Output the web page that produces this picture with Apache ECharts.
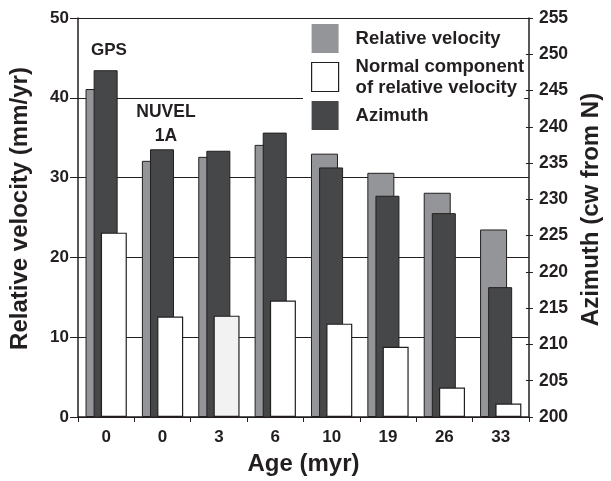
<!DOCTYPE html>
<html>
<head>
<meta charset="utf-8">
<script src="https://cdn.jsdelivr.net/npm/echarts@6/dist/echarts.min.js"></script>
<style>html,body{margin:0;padding:0;background:#fff}#c{width:611px;height:481px}</style>
</head>
<body>
<div id="c"></div>
<script>
var categories = ['0', '0', '3', '6', '10', '19', '26', '33'];
var relativeVelocity = [41.1, 32.1, 32.6, 34.1, 33.0, 30.6, 28.1, 23.5];
var normalComponent = [23.1, 12.6, 12.7, 14.6, 11.7, 8.8, 3.7, 1.7];
var azimuth = [247.8, 236.9, 236.7, 239.2, 234.4, 230.5, 228.1, 217.9];
var leftTicks = {min: 0, max: 50, interval: 10};
var rightTicks = {min: 200, max: 255, interval: 5};

var FONT = '"Liberation Sans", Arial, Helvetica, sans-serif';
var INK = '#231f20';
var chart = echarts.init(document.getElementById('c'), null, {renderer: 'canvas'});

var normalData = normalComponent.map(function (v, i) {
  return i === 2 ? {value: v, itemStyle: {color: '#f2f2f2'}} : v;
});

chart.setOption({
  animation: false,
  backgroundColor: '#fff',
  textStyle: {fontFamily: FONT},
  grid: {left: 78, right: 74, top: 18, bottom: 60, containLabel: false},
  legend: {
    orient: 'vertical',
    left: 303, top: 20,
    padding: [4, 0, 8, 8],
    backgroundColor: '#fff',
    itemWidth: 27, itemHeight: 29, itemGap: 3,
    icon: 'rect',
    selectedMode: false,
    data: [
      {name: 'Relative velocity', itemStyle: {borderWidth: 0}},
      {name: 'Normal component\nof relative velocity', itemStyle: {borderWidth: 1.2, borderColor: INK}},
      {name: 'Azimuth', itemStyle: {borderWidth: 0}}
    ],
    textStyle: {fontFamily: FONT, fontWeight: 'bold', fontSize: 18.5, color: INK, lineHeight: 21, padding: [0, 0, 0, 12]}
  },
  xAxis: {
    type: 'category',
    data: categories,
    name: 'Age (myr)',
    nameLocation: 'middle',
    nameGap: 35,
    nameTextStyle: {fontFamily: FONT, fontWeight: 'bold', fontSize: 24, color: INK},
    axisLine: {lineStyle: {color: INK, width: 1.5}},
    axisTick: {show: true, alignWithLabel: false, length: 5, lineStyle: {color: INK, width: 1}},
    axisLabel: {fontFamily: FONT, fontWeight: 'bold', fontSize: 17, color: INK, margin: 12},
    splitLine: {show: false}
  },
  yAxis: [{
    type: 'value',
    min: leftTicks.min, max: leftTicks.max, interval: leftTicks.interval,
    name: 'Relative velocity (mm/yr)',
    nameLocation: 'middle',
    nameGap: 46,
    nameTextStyle: {fontFamily: FONT, fontWeight: 'bold', fontSize: 24, color: INK, padding: [0, 0, 0, 18]},
    axisLine: {show: true, lineStyle: {color: INK, width: 1.5}},
    axisTick: {show: true, length: 8, lineStyle: {color: INK, width: 1}},
    axisLabel: {fontFamily: FONT, fontWeight: 'bold', fontSize: 17, color: INK, margin: 9},
    splitLine: {show: true, lineStyle: {color: INK, width: 1.2}}
  }, {
    type: 'value',
    min: rightTicks.min, max: rightTicks.max, interval: rightTicks.interval,
    name: 'Azimuth (cw from N)',
    nameLocation: 'middle',
    nameGap: 47,
    nameRotate: 90,
    nameTextStyle: {fontFamily: FONT, fontWeight: 'bold', fontSize: 24, color: INK, padding: [0, 0, 0, 16]},
    position: 'right',
    axisLine: {show: true, lineStyle: {color: INK, width: 1.5}},
    axisTick: {show: true, length: 4, lineStyle: {color: INK, width: 1}},
    axisLabel: {fontFamily: FONT, fontWeight: 'bold', fontSize: 17.5, color: INK, margin: 10},
    splitLine: {show: false}
  }, {
    type: 'value',
    min: rightTicks.min, max: rightTicks.max, interval: rightTicks.interval,
    position: 'right',
    axisLine: {show: false},
    axisTick: {show: true, inside: true, length: 3, lineStyle: {color: INK, width: 1}},
    axisLabel: {show: false},
    splitLine: {show: false}
  }],
  series: [{
    name: 'Relative velocity',
    type: 'bar',
    yAxisIndex: 0,
    data: relativeVelocity,
    barWidth: 27,
    barGap: '-70%',
    itemStyle: {color: '#939598', borderColor: INK, borderWidth: 1}
  }, {
    name: 'Azimuth',
    type: 'bar',
    yAxisIndex: 1,
    data: azimuth,
    barWidth: 24,
    barGap: '-70%',
    itemStyle: {color: '#464749', borderColor: INK, borderWidth: 1}
  }, {
    name: 'Normal component\nof relative velocity',
    type: 'bar',
    yAxisIndex: 0,
    data: normalData,
    barWidth: 26,
    barGap: '-70%',
    itemStyle: {color: '#ffffff', borderColor: INK, borderWidth: 1.2}
  }],
  graphic: [
    {type: 'text', left: 91, top: 42, style: {text: 'GPS', font: 'bold 17px ' + FONT, fill: INK}},
    {type: 'text', x: 166, y: 103, style: {text: 'NUVEL', font: 'bold 17.5px ' + FONT, fill: INK, align: 'center', verticalAlign: 'top'}},
    {type: 'text', x: 166, y: 127, style: {text: '1A', font: 'bold 17.5px ' + FONT, fill: INK, align: 'center', verticalAlign: 'top'}}
  ]
});
</script>
</body>
</html>
